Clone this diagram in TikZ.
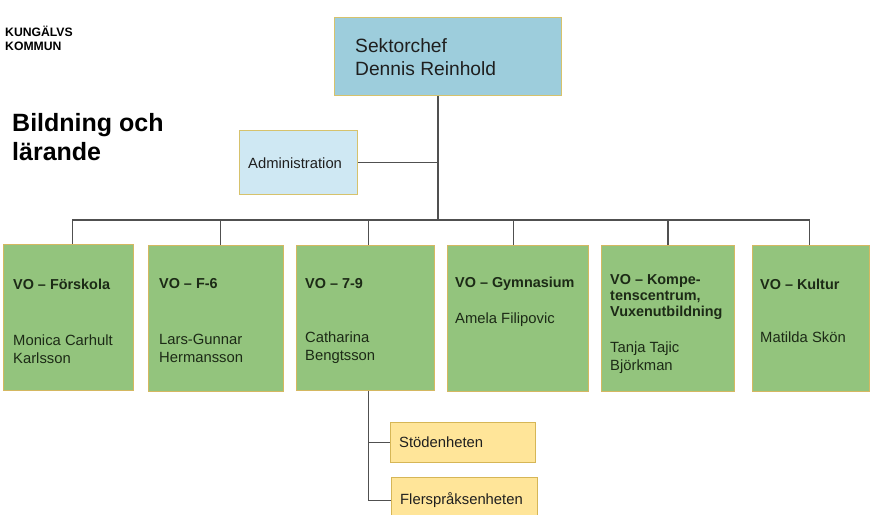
\documentclass[tikz,border=0pt]{standalone}
\usepackage{fontspec}
\setmainfont{Liberation Sans}
\definecolor{chefblue}{HTML}{9DCDDC}
\definecolor{chefborder}{HTML}{D6C26C}
\definecolor{adminfill}{HTML}{CFE8F3}
\definecolor{gfill}{HTML}{93C47D}
\definecolor{gborder}{HTML}{D4B861}
\definecolor{yfill}{HTML}{FFE599}
\definecolor{yborder}{HTML}{D6B656}
\definecolor{linec}{HTML}{505050}
\definecolor{txtc}{HTML}{1F1F1F}
\definecolor{gtxt}{HTML}{1C2A16}
\tikzset{
  boxbase/.style={draw, line width=0.9pt, inner sep=0pt, anchor=north west},
  chefbox/.style={boxbase, fill=chefblue, draw=chefborder},
  adminbox/.style={boxbase, fill=adminfill, draw=chefborder},
  gbox/.style={boxbase, fill=gfill, draw=gborder},
  ybox/.style={boxbase, fill=yfill, draw=yborder},
  txt/.style={inner sep=0pt, anchor=west, align=left, text=txtc, font=\fontsize{14.8}{17.5}\selectfont},
  gtitle/.style={txt, text=gtxt, font=\fontsize{14.4}{16}\selectfont\bfseries},
  gname/.style={txt, text=gtxt, font=\fontsize{14.8}{18}\selectfont},
  conn/.style={draw=linec, line width=1.3pt}
}
\begin{document}
\begin{tikzpicture}[x=1pt,y=-1pt]
\useasboundingbox (0,0) rectangle (872,514);
\clip (0,0) rectangle (872,514);
\fill[white] (0,0) rectangle (872,514);

% logo and title
\node[txt, font=\fontsize{12.2}{14}\selectfont\bfseries, text=black] (logo) at (5,38) {KUNGÄLVS\\KOMMUN};
\node[txt, font=\fontsize{25}{29}\selectfont\bfseries, text=black] (title) at (12,137) {Bildning och\\lärande};

% top boxes
\node[chefbox, minimum width=227, minimum height=78] (chef) at (334,17) {};
\node[txt, font=\fontsize{19.2}{23}\selectfont] (cheft) at (355,57) {Sektorchef\\Dennis Reinhold};

\node[adminbox, minimum width=118, minimum height=64] (admin) at (239,130) {};
\node[txt] (admint) at (248,163) {Administration};

% green boxes
\node[gbox, minimum width=130, minimum height=146] (b1) at (3,244) {};
\node[gbox, minimum width=135, minimum height=146] (b2) at (148,245) {};
\node[gbox, minimum width=138, minimum height=145] (b3) at (296,245) {};
\node[gbox, minimum width=141, minimum height=146] (b4) at (447,245) {};
\node[gbox, minimum width=133, minimum height=146] (b5) at (601,245) {};
\node[gbox, minimum width=117, minimum height=146] (b6) at (752,245) {};

\node[gtitle] (t1) at (13,284) {VO – Förskola};
\node[gname] (n1) at (13,349) {Monica Carhult\\Karlsson};
\node[gtitle] (t2) at (159,284) {VO – F-6};
\node[gname] (n2) at (159,348) {Lars-Gunnar\\Hermansson};
\node[gtitle] (t3) at (305,284) {VO – 7-9};
\node[gname] (n3) at (305,348) {Catharina\\Bengtsson};
\node[gtitle] (t4) at (455,284) {VO – Gymnasium};
\node[gname] (n4) at (455,320) {Amela Filipovic};
\node[gtitle] (t5) at (610,297) {VO – Kompe-\\tenscentrum,\\Vuxenutbildning};
\node[gname] (n5) at (610,357.5) {Tanja Tajic\\Björkman};
\node[gtitle] (t6) at (760,284) {VO – Kultur};
\node[gname] (n6) at (760,337) {Matilda Skön};

% yellow boxes
\node[ybox, minimum width=145, minimum height=40] (st) at (390,422) {};
\node[txt] (stt) at (399,442) {Stödenheten};
\node[ybox, minimum width=146, minimum height=46] (fl) at (391,477) {};
\node[txt] (flt) at (400,500) {Flerspråksenheten};

% connectors
\coordinate (bus) at (438,220);
\draw[conn] (chef.south -| bus) -- (bus);
\draw[conn, line width=1pt] (admin.east) -- (admin.east -| bus);
\draw[conn] ([xshift=4pt]b1.north) |- (bus);
\draw[conn] ([xshift=4.5pt]b2.north) |- (bus);
\draw[conn] ([xshift=3pt]b3.north) |- (bus);
\draw[conn] ([xshift=-4.5pt]b4.north) |- (bus);
\draw[conn] (b5.north) |- (bus);
\draw[conn] ([xshift=-1.5pt]b6.north) |- (bus);
\draw[conn] ([xshift=3pt]b3.south) |- (fl.west);
\draw[conn] ([xshift=3pt]b3.south |- st.west) -- (st.west);
\end{tikzpicture}
\end{document}
